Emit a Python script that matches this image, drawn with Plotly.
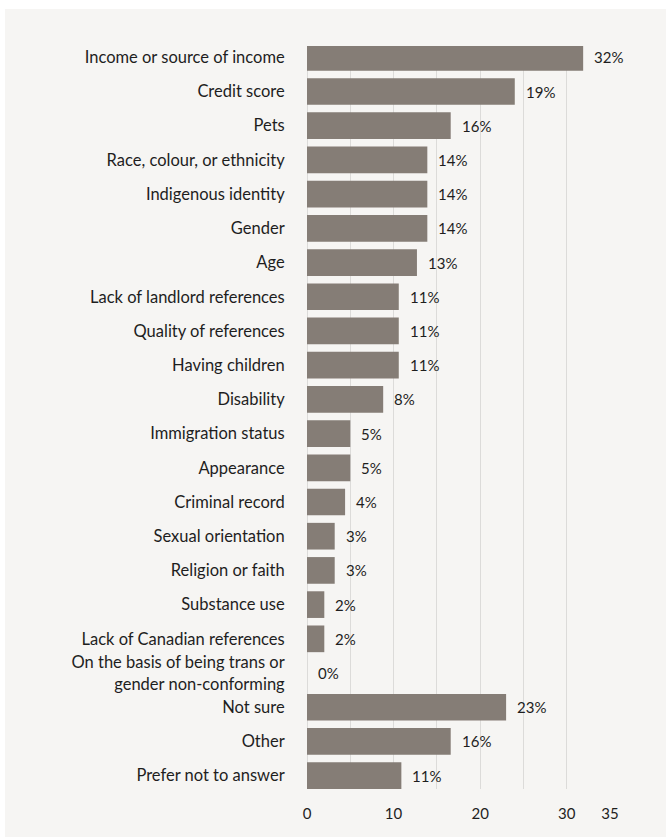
import plotly.graph_objects as go

categories = [
    "Income or source of income",
    "Credit score",
    "Pets",
    "Race, colour, or ethnicity",
    "Indigenous identity",
    "Gender",
    "Age",
    "Lack of landlord references",
    "Quality of references",
    "Having children",
    "Disability",
    "Immigration status",
    "Appearance",
    "Criminal record",
    "Sexual orientation",
    "Religion or faith",
    "Substance use",
    "Lack of Canadian references",
    "On the basis of being trans or<br>gender non-conforming",
    "Not sure",
    "Other",
    "Prefer not to answer",
]
bar_values = [31.9, 24.0, 16.6, 13.9, 13.9, 13.9, 12.7, 10.6, 10.6, 10.6, 8.8,
              5.0, 5.0, 4.4, 3.2, 3.2, 2.0, 2.0, 0.0, 23.0, 16.6, 10.9]
value_labels = ["32%", "19%", "16%", "14%", "14%", "14%", "13%", "11%", "11%", "11%",
                "8%", "5%", "5%", "4%", "3%", "3%", "2%", "2%", "0%", "23%", "16%", "11%"]
x_tickvals = [0, 10, 20, 30, 35]
x_minor_grid = [5, 15, 25]

BG = "#f6f5f3"
BAR = "#857d76"
GRID = "#dcdbd9"
TEXT = "#1e1e1e"
FONT = "Lato"

W, H = 666, 839
L, R, T, B = 307, 56, 46, 50
pw, ph = W - L - R, H - T - B

fig = go.Figure()
fig.add_trace(go.Bar(
    y=categories, x=bar_values, orientation="h",
    marker=dict(color=BAR, line=dict(width=0)),
    width=0.78, hoverinfo="skip",
))

for cat, v, lab in zip(categories, bar_values, value_labels):
    fig.add_annotation(x=v, y=cat, text=lab, showarrow=False,
                       xanchor="left", xshift=9, yanchor="middle",
                       font=dict(family=FONT, size=15, color=TEXT))

# background panel with thin white border at top/left/bottom
def px_to_paper_x(px):
    return (px - L) / pw

def px_to_paper_y(py):
    return (H - B - py) / ph

fig.add_shape(type="rect", xref="paper", yref="paper",
              x0=px_to_paper_x(5), x1=px_to_paper_x(W + 2),
              y0=px_to_paper_y(837), y1=px_to_paper_y(9),
              fillcolor=BG, line=dict(width=0), layer="below")

fig.update_layout(
    width=W, height=H,
    margin=dict(l=L, r=R, t=T, b=B, pad=0),
    paper_bgcolor="white", plot_bgcolor=BG,
    showlegend=False,
    font=dict(family=FONT, size=15, color=TEXT),
    xaxis=dict(range=[0, 35], tickvals=x_tickvals, ticktext=[str(v) for v in x_tickvals],
               showgrid=True, gridcolor=GRID, gridwidth=1.3,
               zeroline=True, zerolinecolor=GRID, zerolinewidth=1.3,
               minor=dict(tickvals=x_minor_grid, showgrid=True, gridcolor=GRID, gridwidth=1.3),
               ticks="outside", ticklen=11, tickcolor="rgba(0,0,0,0)",
               tickfont=dict(family=FONT, size=15, color=TEXT),
               showline=False, fixedrange=True),
    yaxis=dict(categoryorder="array", categoryarray=categories,
               range=[21.39, -0.33], showgrid=False, zeroline=False,
               ticks="outside", ticklen=18, tickcolor="rgba(0,0,0,0)",
               tickfont=dict(family=FONT, size=16.5, color=TEXT),
               showline=False, fixedrange=True),
)

fig.write_html("out.html")
